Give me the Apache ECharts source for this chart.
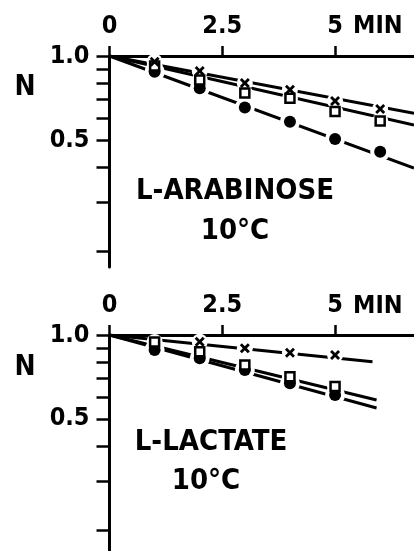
<!DOCTYPE html>
<html><head><meta charset="utf-8">
<script src="https://cdn.jsdelivr.net/npm/echarts@6/dist/echarts.min.js"></script>
<style>html,body{margin:0;padding:0;background:#fff}#c{width:414px;height:551px}</style>
</head><body><div id="c"></div>
<script>
// ---- data ----
const xTicks = [0, 2.5, 5];
const yTicks = [1.0, 0.9, 0.8, 0.7, 0.6, 0.5, 0.4, 0.3, 0.2];
const yLabels = [1.0, 0.5];

// L-arabinose, 10 °C
const arabTime = [1, 2, 3, 4, 5, 6];
const arabCross = [0.954, 0.884, 0.80, 0.757, 0.690, 0.646];
const arabSquare = [0.92, 0.82, 0.737, 0.705, 0.632, 0.585];
const arabCircle = [0.878, 0.766, 0.654, 0.581, 0.504, 0.454];
const arabFitX = [0, 6.75];
const arabFitCross = [1.0, 0.623];
const arabFitSquare = [1.0, 0.566];
const arabFitCircle = [1.0, 0.397];

// L-lactate, 10 °C
const lactTime = [1, 2, 3, 4, 5];
const lactCrossTime = [2, 3, 4, 5];
const lactCross = [0.946, 0.896, 0.864, 0.848];
const lactSquare = [0.944, 0.871, 0.781, 0.709, 0.653];
const lactCircle = [0.884, 0.825, 0.749, 0.671, 0.609];
const lactFitCrossX = [0, 5.83];
const lactFitCross = [1.0, 0.802];
const lactFitX = [0, 5.92];
const lactFitSquare = [1.0, 0.585];
const lactFitCircle = [1.0, 0.547];

// ---- chart ----
const FONT = "'DejaVu Sans Condensed', 'DejaVu Sans', sans-serif";
const pairs = (xs, ys) => xs.map((x, i) => [x, ys[i]]);
const CROSS = 'path://M0,2L2,0L5,3L8,0L10,2L7,5L10,8L8,10L5,7L2,10L0,8L3,5Z';

function xAxisFor(gi) {
  return {
    gridIndex: gi, type: 'value', position: 'top', min: 0, max: 6.75,
    axisLine: { show: true, onZero: false, lineStyle: { color: '#000', width: 3 } },
    axisTick: { show: true, customValues: xTicks, length: 10, lineStyle: { color: '#000', width: 2.5 } },
    axisLabel: { customValues: xTicks, margin: 17, color: '#000', fontSize: 25, fontFamily: FONT, fontWeight: 'bold',
      formatter: v => String(v) },
    splitLine: { show: false }
  };
}
function yAxisFor(gi, minV) {
  return {
    gridIndex: gi, type: 'log', logBase: 10, min: minV, max: 1.0,
    axisLine: { show: true, onZero: false, lineStyle: { color: '#000', width: 3 } },
    axisTick: { show: true, customValues: yTicks, length: 13, lineStyle: { color: '#000', width: 2.5 } },
    axisLabel: { customValues: yLabels, margin: 20, color: '#000', fontSize: 25, fontFamily: FONT, fontWeight: 'bold',
      formatter: v => Number(v).toFixed(1) },
    splitLine: { show: false }, minorTick: { show: false }
  };
}
function fitLine(gi, xs, ys) {
  return { type: 'line', xAxisIndex: gi, yAxisIndex: gi, data: pairs(xs, ys), symbol: 'none',
    lineStyle: { color: '#000', width: 3 }, z: 2, silent: true, animation: false };
}
function halo(gi, xs, ys, size) {
  return { type: 'scatter', xAxisIndex: gi, yAxisIndex: gi, data: pairs(xs, ys), symbol: 'circle',
    symbolSize: size, itemStyle: { color: '#fff', opacity: 1 }, z: 3, silent: true, animation: false };
}
function marks(gi, xs, ys, kind) {
  const s = { type: 'scatter', xAxisIndex: gi, yAxisIndex: gi, data: pairs(xs, ys), z: 4, silent: true, animation: false };
  if (kind === 'circle') { s.symbol = 'circle'; s.symbolSize = 12; s.itemStyle = { color: '#000', opacity: 1 }; }
  if (kind === 'square') { s.symbol = 'rect'; s.symbolSize = 9; s.itemStyle = { color: '#fff', borderColor: '#000', borderWidth: 2.5, opacity: 1 }; }
  if (kind === 'cross') { s.symbol = CROSS; s.symbolSize = 10; s.itemStyle = { color: '#000', opacity: 1 }; }
  return s;
}
function txt(x, y, text, size, align) {
  return { type: 'text', x: x, y: y, style: { text: text, fill: '#000', font: 'bold ' + size + 'px ' + FONT,
    align: align || 'center', verticalAlign: 'middle' } };
}

const chart = echarts.init(document.getElementById('c'), null, { renderer: 'canvas' });
chart.setOption({
  animation: false,
  backgroundColor: '#fff',
  grid: [
    { left: 109.5, right: 0, top: 56, height: 211 },
    { left: 109.5, right: 0, top: 335, height: 216 }
  ],
  xAxis: [xAxisFor(0), xAxisFor(1)],
  yAxis: [yAxisFor(0, 0.1754), yAxisFor(1, 0.168)],
  series: [
    fitLine(0, arabFitX, arabFitCross), fitLine(0, arabFitX, arabFitSquare), fitLine(0, arabFitX, arabFitCircle),
    halo(0, arabTime, arabCircle, 20), halo(0, arabTime, arabSquare, 16), halo(0, arabTime, arabCross, 16),
    marks(0, arabTime, arabCircle, 'circle'), marks(0, arabTime, arabSquare, 'square'), marks(0, arabTime, arabCross, 'cross'),

    fitLine(1, lactFitCrossX, lactFitCross), fitLine(1, lactFitX, lactFitSquare), fitLine(1, lactFitX, lactFitCircle),
    halo(1, lactTime, lactCircle, 20), halo(1, lactTime, lactSquare, 16), halo(1, lactCrossTime, lactCross, 16),
    marks(1, lactTime, lactCircle, 'circle'), marks(1, lactTime, lactSquare, 'square'), marks(1, lactCrossTime, lactCross, 'cross')
  ],
  graphic: [
    txt(25, 88, 'N', 28), txt(25, 368, 'N', 28),
    txt(353, 26, 'MIN', 25, 'left'), txt(353, 306, 'MIN', 25, 'left'),
    txt(235, 191, 'L-ARABINOSE', 29), txt(235, 231, '10°C', 29),
    txt(211, 442, 'L-LACTATE', 29), txt(206, 481, '10°C', 29)
  ]
});
</script></body></html>
